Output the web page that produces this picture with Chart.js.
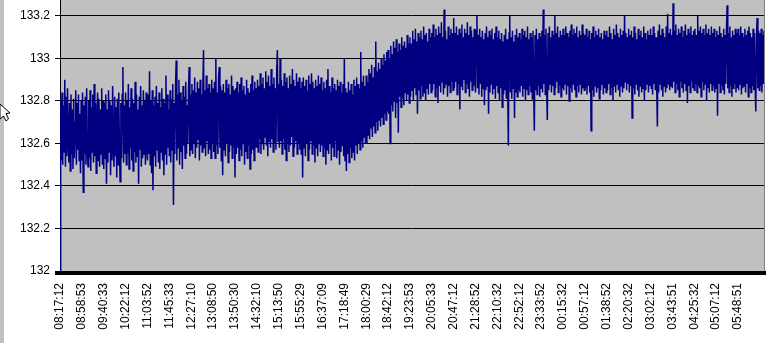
<!DOCTYPE html>
<html>
<head>
<meta charset="utf-8">
<script src="https://cdn.jsdelivr.net/npm/chart.js@4.4.1/dist/chart.umd.min.js"></script>
<style>
  body { margin: 0; background: #fff; }
  #wrap { width: 769px; height: 343px; }
</style>
</head>
<body>
<div id="wrap"><canvas id="canvas" width="769" height="343"></canvas></div>
<script>
// tick labels, one every 32 samples
var tickLabels = [
    "08:17:12", "08:58:53", "09:40:33", "10:22:12", "11:03:52", "11:45:33", "12:27:10", "13:08:50",
    "13:50:30", "14:32:10", "15:13:50", "15:55:29", "16:37:09", "17:18:49", "18:00:29", "18:42:12",
    "19:23:53", "20:05:33", "20:47:12", "21:28:52", "22:10:32", "22:52:12", "23:33:52", "00:15:32",
    "00:57:12", "01:38:52", "02:20:32", "03:02:12", "03:43:51", "04:25:32", "05:07:12", "05:48:51"
];
var samplesPerLabel = 32;

// readings, two lines per label step
var readings = [
    132.00, 132.80, 132.52, 132.84, 132.50, 132.78, 132.56, 132.90, 132.49, 132.82, 132.54, 132.86, 132.62, 132.51, 132.79, 132.47,
    132.83, 132.55, 132.76, 132.48, 132.81, 132.53, 132.70, 132.85, 132.50, 132.79, 132.57, 132.83, 132.52, 132.74, 132.46, 132.80,
    132.52, 132.84, 132.37, 132.78, 132.55, 132.82, 132.50, 132.86, 132.58, 132.49, 132.80, 132.53, 132.85, 132.47, 132.77, 132.56,
    132.83, 132.51, 132.88, 132.54, 132.79, 132.46, 132.72, 132.84, 132.52, 132.81, 132.49, 132.76, 132.55, 132.86, 132.50, 132.80,
    132.48, 132.79, 132.53, 132.83, 132.41, 132.76, 132.51, 132.85, 132.56, 132.80, 132.45, 132.78, 132.52, 132.87, 132.58, 132.49,
    132.82, 132.54, 132.77, 132.44, 132.81, 132.50, 132.84, 132.57, 132.42, 132.79, 132.53, 132.83, 132.96, 132.51, 132.78, 132.55,
    132.84, 132.50, 132.80, 132.55, 132.88, 132.48, 132.77, 132.58, 132.86, 132.52, 132.81, 132.47, 132.79, 132.56, 132.89, 132.51,
    132.83, 132.54, 132.76, 132.41, 132.82, 132.57, 132.87, 132.49, 132.78, 132.53, 132.85, 132.55, 132.80, 132.50, 132.84, 132.58,
    132.52, 132.83, 132.55, 132.94, 132.50, 132.80, 132.46, 132.85, 132.38, 132.78, 132.54, 132.82, 132.49, 132.87, 132.57, 132.79,
    132.51, 132.84, 132.48, 132.77, 132.56, 132.86, 132.52, 132.81, 132.45, 132.79, 132.55, 132.92, 132.50, 132.83, 132.58, 132.76,
    132.54, 132.85, 132.51, 132.81, 132.57, 132.88, 132.31, 132.79, 132.55, 132.86, 132.99, 132.52, 132.83, 132.58, 132.90, 132.50,
    132.84, 132.56, 132.80, 132.48, 132.87, 132.59, 132.82, 132.53, 132.89, 132.55, 132.78, 132.60, 132.85, 132.96, 132.54, 132.83,
    132.57, 132.88, 132.55, 132.85, 132.60, 132.91, 132.53, 132.84, 132.58, 132.89, 132.62, 132.86, 132.52, 132.90, 132.59, 132.83,
    132.56, 132.87, 133.04, 132.58, 132.85, 132.54, 132.92, 132.61, 132.86, 132.55, 132.88, 132.57, 132.84, 132.53, 132.90, 132.60,
    132.86, 132.56, 132.89, 132.53, 133.00, 132.59, 132.84, 132.55, 132.91, 132.96, 132.58, 132.87, 132.52, 132.85, 132.45, 132.88,
    132.57, 132.84, 132.54, 132.90, 132.60, 132.86, 132.51, 132.88, 132.56, 132.83, 132.59, 132.92, 132.53, 132.87, 132.58, 132.85,
    132.44, 132.86, 132.55, 132.89, 132.58, 132.84, 132.52, 132.88, 132.57, 132.91, 132.54, 132.85, 132.60, 132.87, 132.50, 132.83,
    132.56, 132.90, 132.53, 132.86, 132.59, 132.84, 132.48, 132.88, 132.55, 132.92, 132.57, 132.85, 132.52, 132.89, 132.58, 132.86,
    132.58, 132.90, 132.56, 132.87, 132.62, 132.93, 132.55, 132.88, 132.60, 132.91, 132.57, 132.86, 132.63, 132.94, 132.59, 132.89,
    132.54, 132.92, 132.61, 132.87, 132.58, 132.95, 132.62, 132.88, 132.56, 132.91, 132.60, 132.86, 132.57, 132.93, 133.04, 132.61,
    132.88, 132.58, 133.00, 132.61, 132.90, 132.55, 132.87, 132.62, 132.93, 132.57, 132.89, 132.52, 132.91, 132.60, 132.86, 132.56,
    132.92, 132.59, 132.88, 132.63, 132.95, 132.54, 132.90, 132.58, 132.87, 132.61, 132.93, 132.55, 132.89, 132.60, 132.91, 132.57,
    132.86, 132.55, 132.89, 132.44, 132.91, 132.58, 132.87, 132.54, 132.90, 132.60, 132.85, 132.52, 132.92, 132.57, 132.88, 132.61,
    132.93, 132.55, 132.89, 132.59, 132.86, 132.51, 132.90, 132.58, 132.87, 132.54, 132.92, 132.60, 132.88, 132.56, 132.91, 132.59,
    132.85, 132.54, 132.89, 132.58, 132.86, 132.50, 132.90, 132.57, 132.95, 132.55, 132.87, 132.60, 132.84, 132.52, 132.91, 132.58,
    132.86, 132.54, 132.88, 132.61, 132.85, 132.53, 132.90, 132.57, 132.87, 132.50, 132.89, 132.56, 132.84, 132.59, 132.88, 132.54,
    133.00, 132.52, 132.86, 132.47, 132.84, 132.55, 132.89, 132.51, 132.85, 132.58, 132.88, 132.53, 132.83, 132.56, 132.90, 132.52,
    132.87, 132.59, 132.91, 132.55, 132.88, 132.60, 132.86, 132.57, 133.03, 132.61, 132.89, 132.58, 132.92, 132.63, 132.87, 132.60,
    132.92, 132.60, 132.89, 132.64, 132.95, 132.62, 132.93, 132.67, 132.97, 132.63, 132.91, 132.68, 132.96, 132.65, 133.08, 132.70,
    132.94, 132.66, 132.98, 132.71, 132.95, 132.68, 133.00, 132.72, 132.97, 132.69, 133.02, 132.74, 132.99, 132.71, 133.03, 132.75,
    133.04, 132.74, 133.00, 132.60, 133.06, 132.78, 133.02, 132.75, 133.08, 132.80, 133.05, 132.72, 133.09, 132.79, 133.03, 132.65,
    133.07, 132.82, 133.04, 132.77, 133.10, 132.81, 133.06, 132.78, 133.08, 132.84, 133.05, 132.80, 133.11, 132.83, 133.07, 132.79,
    133.10, 132.82, 133.07, 132.85, 133.13, 132.80, 133.09, 132.86, 133.14, 132.83, 133.08, 132.74, 133.12, 132.85, 133.10, 132.81,
    133.13, 132.87, 133.09, 132.82, 133.15, 132.84, 133.11, 132.80, 133.12, 132.86, 133.08, 132.83, 133.14, 132.88, 133.10, 132.84,
    133.12, 132.85, 133.16, 132.88, 133.10, 132.82, 133.14, 132.86, 133.11, 132.79, 133.15, 132.87, 133.12, 132.84, 133.17, 132.89,
    133.10, 132.83, 133.23, 132.86, 133.13, 132.88, 133.09, 132.82, 133.15, 132.87, 133.11, 132.84, 133.14, 132.89, 133.12, 132.85,
    133.19, 132.86, 133.12, 132.89, 133.15, 132.83, 133.11, 132.88, 133.14, 132.76, 133.12, 132.87, 133.16, 132.85, 133.10, 132.90,
    133.14, 132.84, 133.12, 132.88, 133.17, 132.86, 133.11, 132.82, 133.15, 132.89, 133.13, 132.85, 133.10, 132.87, 133.14, 132.90,
    132.84, 133.13, 133.20, 132.86, 133.11, 132.83, 133.14, 132.88, 133.10, 132.82, 133.13, 132.86, 133.09, 132.78, 133.12, 132.85,
    133.15, 132.87, 133.10, 132.74, 133.13, 132.84, 133.11, 132.88, 133.14, 132.83, 133.09, 132.86, 133.12, 132.81, 133.15, 132.87,
    133.10, 132.84, 133.13, 132.80, 133.09, 132.86, 133.12, 132.77, 133.08, 132.83, 133.11, 132.85, 133.14, 132.81, 133.09, 132.86,
    132.59, 133.12, 133.20, 132.84, 133.10, 132.81, 133.13, 132.86, 133.08, 132.72, 133.11, 132.84, 133.14, 132.82, 133.10, 132.85,
    133.12, 132.84, 133.09, 132.87, 133.14, 132.82, 133.11, 132.86, 133.13, 132.80, 133.10, 132.85, 133.15, 132.83, 133.09, 132.87,
    133.12, 132.84, 133.10, 132.81, 133.13, 132.86, 132.66, 133.11, 132.85, 133.14, 132.83, 133.09, 132.87, 133.12, 132.82, 133.10,
    132.86, 133.13, 132.84, 133.23, 132.88, 133.11, 132.83, 133.14, 132.86, 132.71, 133.12, 132.85, 133.15, 132.88, 133.10, 132.84,
    133.13, 132.87, 133.11, 132.83, 133.20, 132.86, 133.12, 132.89, 133.15, 132.84, 133.10, 132.87, 133.13, 132.82, 133.11, 132.86,
    133.14, 132.85, 133.11, 132.88, 133.15, 132.83, 133.12, 132.87, 133.10, 132.80, 133.13, 132.86, 133.16, 132.84, 133.11, 132.88,
    133.14, 132.85, 133.12, 132.82, 133.15, 132.87, 133.10, 132.84, 133.13, 132.88, 133.11, 132.83, 133.16, 132.86, 133.12, 132.85,
    133.11, 132.86, 133.14, 132.83, 133.10, 132.87, 133.13, 132.84, 133.09, 132.66, 133.12, 132.85, 133.15, 132.82, 133.10, 132.87,
    133.13, 132.84, 133.11, 132.86, 133.14, 132.81, 133.10, 132.85, 133.12, 132.88, 133.09, 132.83, 133.13, 132.86, 133.11, 132.84,
    133.13, 132.85, 133.10, 132.88, 133.15, 132.83, 133.12, 132.86, 133.09, 132.80, 133.14, 132.87, 133.11, 132.84, 133.16, 132.88,
    133.12, 132.85, 133.10, 132.82, 133.14, 132.87, 133.11, 132.84, 133.13, 132.86, 133.20, 132.89, 133.12, 132.85, 133.10, 132.88,
    133.14, 132.84, 133.11, 132.87, 133.13, 132.72, 133.10, 132.86, 133.15, 132.83, 133.12, 132.88, 133.09, 132.85, 133.14, 132.82,
    133.11, 132.87, 133.13, 132.84, 133.10, 132.86, 133.15, 132.80, 133.12, 132.85, 133.09, 132.88, 133.13, 132.84, 133.11, 132.87,
    133.14, 132.86, 133.11, 132.83, 133.15, 132.88, 133.12, 132.85, 133.10, 132.87, 132.68, 133.13, 132.84, 133.16, 132.88, 133.11,
    132.85, 133.14, 132.82, 133.12, 132.87, 133.10, 132.84, 133.15, 132.86, 133.21, 132.88, 133.12, 132.85, 133.14, 132.87, 133.11,
    132.86, 133.26, 132.89, 133.13, 132.84, 133.16, 132.88, 133.11, 132.85, 133.14, 132.82, 133.12, 132.89, 133.15, 132.86, 133.10,
    132.84, 133.13, 132.88, 133.16, 132.85, 133.11, 132.79, 133.14, 132.87, 133.12, 132.84, 133.15, 132.89, 133.11, 132.86, 133.13,
    132.85, 133.14, 132.88, 133.11, 132.84, 133.20, 132.87, 133.13, 132.86, 133.15, 132.82, 133.12, 132.89, 133.14, 132.85, 133.11,
    132.88, 133.16, 132.80, 133.12, 132.86, 133.14, 132.84, 133.11, 132.88, 133.15, 132.85, 133.12, 132.87, 133.14, 132.84, 133.10,
    132.86, 133.13, 132.73, 133.11, 132.88, 133.15, 132.84, 133.12, 132.87, 133.10, 132.85, 133.14, 132.83, 133.11, 132.88, 133.13,
    133.25, 132.86, 133.12, 132.84, 133.15, 132.87, 133.10, 132.82, 133.13, 132.86, 133.11, 132.88, 133.14, 132.84, 133.12, 132.86,
    133.14, 132.85, 133.11, 132.88, 133.15, 132.83, 133.12, 132.86, 133.10, 132.87, 133.14, 132.84, 133.11, 132.88, 133.13, 132.82,
    133.15, 132.86, 133.12, 132.84, 133.10, 132.87, 133.14, 132.85, 133.12, 132.88, 132.75, 133.11, 133.19, 132.86, 133.13, 132.85,
    133.12, 132.87, 133.14, 132.84, 133.11, 132.88, 133.13
];

var yTicks = [132, 132.2, 132.4, 132.6, 132.8, 133, 133.2];

// excel-ish frame: grey plot, left strip, thick bottom axis, mouse pointer
var frame = {
    id: 'frame',
    beforeDraw: function(chart) {
        var ctx = chart.ctx, a = chart.chartArea;
        ctx.save();
        ctx.fillStyle = '#ffffff';
        ctx.fillRect(0, 0, chart.width, chart.height);
        ctx.fillStyle = '#c0c0c0';
        ctx.fillRect(0, 0, 4, chart.height);
        ctx.fillRect(a.left, a.top, a.right - a.left, a.bottom - a.top);
        ctx.restore();
    },
    afterDraw: function(chart) {
        var ctx = chart.ctx, a = chart.chartArea;
        ctx.save();
        ctx.fillStyle = '#808080';
        ctx.fillRect(a.right, a.top, 1, a.bottom - a.top);
        ctx.fillStyle = '#000000';
        ctx.fillRect(a.left - 5, a.bottom, a.right - a.left + 7, 4);
        // cursor
        ctx.beginPath();
        ctx.moveTo(0, 104);
        ctx.lineTo(10, 113);
        ctx.lineTo(6, 113.5);
        ctx.lineTo(8.5, 119);
        ctx.lineTo(6, 121);
        ctx.lineTo(3.5, 116);
        ctx.lineTo(0, 119);
        ctx.closePath();
        ctx.fillStyle = '#ffffff';
        ctx.fill();
        ctx.lineWidth = 1;
        ctx.strokeStyle = '#000000';
        ctx.stroke();
        ctx.restore();
    }
};

var points = readings.map(function(v, i) { return {x: i, y: v}; });

var chart = new Chart(document.getElementById('canvas'), {
    type: 'line',
    data: {
        datasets: [{
            data: points,
            borderColor: '#000080',
            borderWidth: 1.5,
            pointRadius: 0,
            tension: 0,
            fill: false
        }]
    },
    plugins: [frame],
    options: {
        responsive: false,
        animation: false,
        devicePixelRatio: 1,
        layout: { padding: { left: 0, right: 5, top: 0, bottom: 0 } },
        plugins: { legend: { display: false }, tooltip: { enabled: false } },
        scales: {
            x: {
                type: 'linear',
                min: 0,
                max: readings.length - 1,
                grid: { display: false },
                border: { display: false },
                ticks: {
                    stepSize: samplesPerLabel,
                    includeBounds: false,
                    autoSkip: false,
                    maxRotation: 90,
                    minRotation: 90,
                    padding: 4,
                    color: '#000',
                    font: { family: 'Arial, "Liberation Sans"', size: 12 },
                    callback: function(v) {
                        var k = Math.round(v / samplesPerLabel);
                        return tickLabels[k] || '';
                    }
                },
                afterFit: function(s) {
                    s.height = 72;
                    s.paddingLeft = 0; s.paddingRight = 0;
                }
            },
            y: {
                min: 132,
                max: 133.275,
                grid: { color: '#000', lineWidth: 1, tickLength: 5 },
                border: { color: '#000', width: 1 },
                afterBuildTicks: function(s) {
                    s.ticks = yTicks.map(function(v) { return {value: v}; });
                },
                ticks: {
                    padding: 5,
                    color: '#000',
                    font: { family: 'Arial, "Liberation Sans"', size: 12 },
                    callback: function(v) { return String(Number(v.toFixed(1))); }
                },
                afterFit: function(s) {
                    s.width = 60;
                    s.paddingTop = 0; s.paddingBottom = 0;
                }
            }
        }
    }
});
</script>
</body>
</html>
